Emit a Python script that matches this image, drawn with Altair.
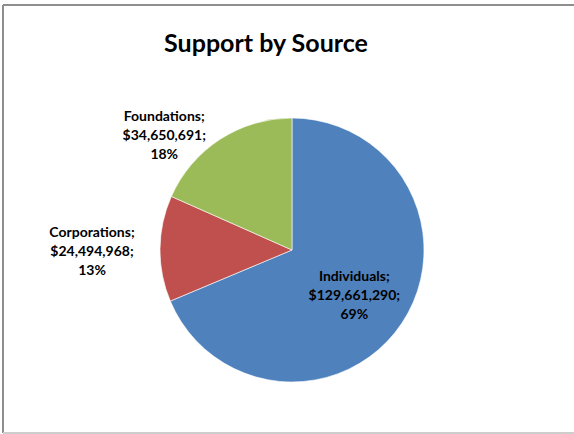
import altair as alt
import pandas as pd

categories = ["Individuals", "Corporations", "Foundations"]
amounts = [129661290, 24494968, 34650691]
percents = [69, 13, 18]
colors = ["#4F81BD", "#C0504D", "#9BBB59"]

df = pd.DataFrame({
    "source": categories,
    "amount": amounts,
    "order": list(range(len(categories))),
    "label": [[f"{c};", f"${a:,};", f"{p}%"] for c, a, p in zip(categories, amounts, percents)],
})

W, H = 400, 300
base = alt.Chart(df)

pie = base.mark_arc(radius=132, stroke="white", strokeWidth=0.6).encode(
    theta=alt.Theta("amount:Q", stack=True),
    order=alt.Order("order:Q"),
    color=alt.Color("source:N", scale=alt.Scale(domain=categories, range=colors), legend=None),
)

def label_layer(cat, radius, dx, dy):
    return base.mark_text(
        radius=radius, font="Lato", fontWeight="bold", fontSize=14,
        lineHeight=19, align="center", baseline="middle", color="black", dx=dx, dy=dy,
    ).encode(
        theta=alt.Theta("amount:Q", stack=True),
        order=alt.Order("order:Q"),
        text="label",
        opacity=alt.condition(alt.datum.source == cat, alt.value(1), alt.value(0)),
    )

labels = alt.layer(
    label_layer("Individuals", 76, -1, -15),
    label_layer("Corporations", 200, 0, -15),
    label_layer("Foundations", 172, -34, 11),
)

border_top = base.mark_rule(color="#8c8c8c", strokeWidth=1.5).encode(
    x=alt.value(-89), x2=alt.value(500), y=alt.value(-95))
border_left = base.mark_rule(color="#8c8c8c", strokeWidth=1.5).encode(
    x=alt.value(-89), y=alt.value(-95), y2=alt.value(333))
border_bottom = base.mark_rule(color="#cccccc", strokeWidth=1.5).encode(
    x=alt.value(-89), x2=alt.value(500), y=alt.value(333))

chart = alt.layer(pie, labels, border_top, border_left, border_bottom).properties(
    width=W, height=H,
    autosize=alt.AutoSizeParams(type="none"),
    padding={"left": 92, "top": 100, "right": 82, "bottom": 34},
    background="white",
    title=alt.TitleParams("Support by Source", font="Lato", fontWeight="bold",
                          fontSize=25, color="black", anchor="middle", frame="group",
                          baseline="alphabetic", dx=-26, dy=73, offset=0),
).configure_view(strokeWidth=0, stroke="transparent")

chart.save("out.html", embed_options={"renderer": "svg", "actions": False})
